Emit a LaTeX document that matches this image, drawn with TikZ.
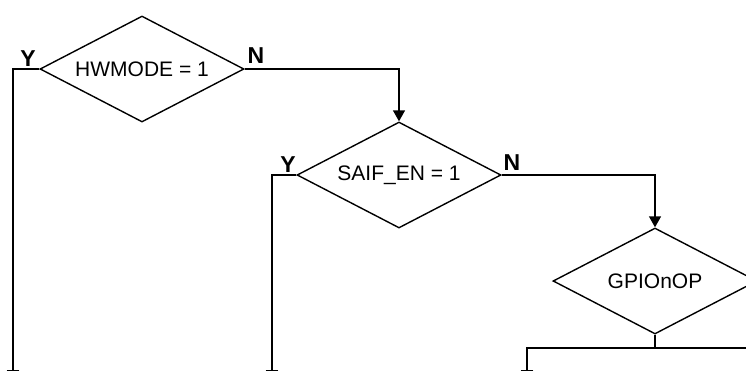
\documentclass[tikz,border=0pt]{standalone}
\usepackage{fontspec}
\setmainfont{Liberation Sans}
\usetikzlibrary{shapes.geometric,arrows.meta}
\begin{document}
\begin{tikzpicture}[x=1pt,y=-1pt,
  decision/.style={draw, line width=1.4pt, shape=diamond, aspect=2, minimum width=204pt, minimum height=106pt, inner sep=0pt, font=\fontsize{21}{24}\selectfont},
  yn/.style={font=\fontsize{23}{26}\selectfont\bfseries, inner sep=0pt, anchor=south},
  link/.style={line width=1.4pt},
  arr/.style={link, -{Triangle[length=11pt,width=12pt]}}]
\useasboundingbox (0,0) rectangle (746,370);
\clip (0,0) rectangle (746,370);
\node[decision] (d1) at (142,69) {HWMODE = 1};
\node[decision] (d2) at (399,175) {SAIF\_EN = 1};
\node[decision] (d3) at (655,281) {GPIOnOP};
\node[yn] (y1) at (28,67) {Y};
\node[yn] (n1) at (256,64) {N};
\node[yn] (y2) at (288,173) {Y};
\node[yn] (n2) at (512,171) {N};
\coordinate (e1) at (13,381);
\coordinate (e2) at (272,381);
\coordinate (e3) at (527,381);
\coordinate (j3) at (655,348);
\coordinate (r3) at (760,348);
\draw[arr] (d1.west) -| (e1);
\draw[arr] (d1.east) -| (d2.north);
\draw[arr] (d2.west) -| (e2);
\draw[arr] (d2.east) -| (d3.north);
\draw[link] (d3.south) -- (j3);
\draw[arr] (r3) -| (e3);
\end{tikzpicture}
\end{document}
